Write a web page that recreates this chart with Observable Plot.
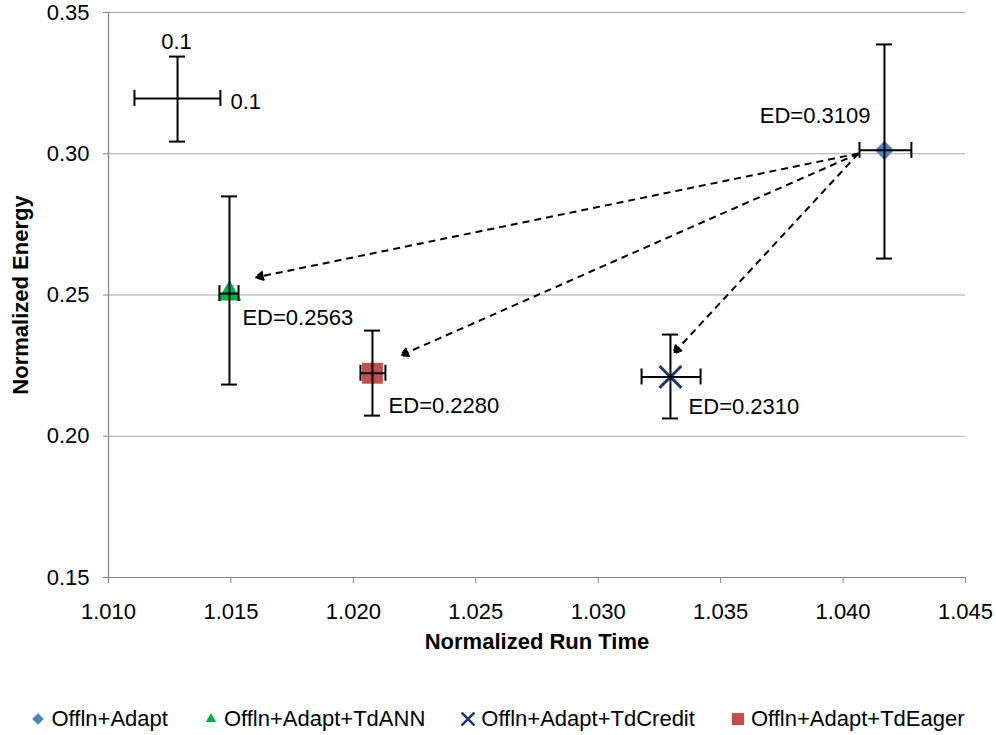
<!DOCTYPE html>
<html><head><meta charset="utf-8">
<script src="https://cdn.jsdelivr.net/npm/d3@7"></script>
<script src="https://cdn.jsdelivr.net/npm/@observablehq/plot@0.6"></script>
<style>
body{margin:0;background:#fff;font-family:"Liberation Sans",Arial,sans-serif;}
#legend{display:flex;justify-content:center;align-items:center;gap:36px;margin-top:17px;height:24px;font-size:22px;color:#000;width:996px;}
.item{display:flex;align-items:center;gap:6px;white-space:nowrap}
.item svg{display:block}
</style></head><body><div id="chart"></div><div id="legend"></div>
<script>
// ---- data ----
const series = ["Offln+Adapt", "Offln+Adapt+TdANN", "Offln+Adapt+TdCredit", "Offln+Adapt+TdEager"];
const symbols = ["diamond2", "triangle", "times", "square"];
const colors = ["#4F81BD", "#00B050", "#1F3864", "#C0504D"];
const markerR = [8.6, 8.8, 10, 11.8];
const runTime = [1.04169, 1.01494, 1.03295, 1.02078];
const energy = [0.3012, 0.2505, 0.2210, 0.2223];
const energyLow = [0.2629, 0.2183, 0.2063, 0.2073];
const energyHigh = [0.3387, 0.2849, 0.2360, 0.2374];
const runTimeLow = [1.04067, 1.01453, 1.03177, 1.02029];
const runTimeHigh = [1.04279, 1.01531, 1.03418, 1.02131];

const edLabels = ["ED=0.3109", "ED=0.2563", "ED=0.2310", "ED=0.2280"];
const edLabelX = [1.04112, 1.01547, 1.03369, 1.02144];
const edLabelY = [0.3135, 0.2417, 0.2105, 0.2109];
const edLabelAnchor = ["end", "start", "start", "start"];

// reference (scale) cross
const refX = [1.01282], refY = [0.3196];
const refXLow = [1.01106], refXHigh = [1.01457];
const refYLow = [0.3043], refYHigh = [0.3344];
const refLabels = ["0.1", "0.1"];
const refLabelX = [1.01278, 1.01498];
const refLabelY = [0.3394, 0.3183];
const refLabelAnchor = ["middle", "start"];

// arrows
const arrowFromX = [1.04063, 1.04063, 1.04063];
const arrowFromY = [0.3001, 0.3001, 0.3001];
const arrowToX = [1.0160, 1.02193, 1.03307];
const arrowToY = [0.2562, 0.2286, 0.2293];

const xTicks = [1.010, 1.015, 1.020, 1.025, 1.030, 1.035, 1.040, 1.045];
const yTicks = [0.15, 0.20, 0.25, 0.30, 0.35];
const gridTicks = [0.20, 0.25, 0.30, 0.35];
const xTitle = "Normalized Run Time";
const yTitle = "Normalized Energy";

// ---- tables ----
const rows = series.map((s, i) => ({
  s, sym: symbols[i], col: colors[i], r: markerR[i],
  x: runTime[i], y: energy[i], ylo: energyLow[i], yhi: energyHigh[i],
  xlo: runTimeLow[i], xhi: runTimeHigh[i]
}));
const refRows = refX.map((x, i) => ({x, y: refY[i], xlo: refXLow[i], xhi: refXHigh[i], ylo: refYLow[i], yhi: refYHigh[i]}));
const bars = rows.concat(refRows);
const edRows = edLabels.map((t, i) => ({t, x: edLabelX[i], y: edLabelY[i], a: edLabelAnchor[i]}));
const refLabelRows = refLabels.map((t, i) => ({t, x: refLabelX[i], y: refLabelY[i], a: refLabelAnchor[i]}));
const arrows = arrowFromX.map((x1, i) => ({x1, y1: arrowFromY[i], x2: arrowToX[i], y2: arrowToY[i]}));
const textRows = edRows.concat(refLabelRows);

const gridColor = "#A6A6A6";
const axisColor = "#868686";
const ebW = 2;

const chart = Plot.plot({
  width: 996, height: 690,
  marginLeft: 108, marginRight: 31, marginTop: 12, marginBottom: 113,
  style: {fontFamily: '"Liberation Sans", Arial, sans-serif', fontSize: "22px", background: "#fff", color: "#000"},
  x: {domain: [1.010, 1.045]},
  y: {domain: [0.15, 0.35]},
  symbol: {domain: series, range: symbols},
  color: {domain: series, range: colors},
  r: {type: "identity"},
  marks: [
    Plot.gridY(gridTicks, {stroke: gridColor, strokeOpacity: 1, strokeWidth: 1.2}),
    Plot.ruleX([1.010], {stroke: axisColor, strokeWidth: 1.2}),
    Plot.ruleY([0.15], {stroke: axisColor, strokeWidth: 1.2}),
    Plot.axisX({ticks: xTicks, tickFormat: d3.format(".3f"), tickSize: 6, tickPadding: 20, stroke: axisColor, label: null, fontSize: 22}),
    Plot.axisY({ticks: yTicks, tickFormat: d3.format(".2f"), tickSize: 5, tickPadding: 14, stroke: axisColor, label: null, fontSize: 22}),
    Plot.text([xTitle], {frameAnchor: "bottom", dy: 71, text: d => d, textAnchor: "middle", fontWeight: "bold", fontSize: 22}),
    Plot.text([yTitle], {frameAnchor: "left", dx: -88, rotate: -90, text: d => d, textAnchor: "middle", fontWeight: "bold", fontSize: 22}),
    // dashed arrows
    Plot.arrow(arrows, {x1: "x1", y1: "y1", x2: "x2", y2: "y2", stroke: "#000", fill: "#000", strokeWidth: 2, strokeDasharray: "7,5", headLength: 7, headAngle: 55, strokeLinecap: "butt"}),
    // markers
    Plot.dot(rows.filter(d => d.sym !== "times"), {x: "x", y: "y", symbol: "s", fill: "s", r: "r", stroke: "none"}),
    Plot.dot(rows.filter(d => d.sym === "times"), {x: "x", y: "y", symbol: "s", stroke: "s", r: "r", strokeWidth: 3}),
    // error bars (vertical)
    Plot.ruleX(bars, {x: "x", y1: "ylo", y2: "yhi", stroke: "#000", strokeWidth: ebW}),
    Plot.ruleY(bars, {y: "ylo", x1: "x", x2: "x", insetLeft: -8, insetRight: -8, stroke: "#000", strokeWidth: ebW}),
    Plot.ruleY(bars, {y: "yhi", x1: "x", x2: "x", insetLeft: -8, insetRight: -8, stroke: "#000", strokeWidth: ebW}),
    // error bars (horizontal)
    Plot.ruleY(bars, {y: "y", x1: "xlo", x2: "xhi", stroke: "#000", strokeWidth: ebW}),
    Plot.ruleX(bars, {x: "xlo", y1: "y", y2: "y", insetTop: -8, insetBottom: -8, stroke: "#000", strokeWidth: ebW}),
    Plot.ruleX(bars, {x: "xhi", y1: "y", y2: "y", insetTop: -8, insetBottom: -8, stroke: "#000", strokeWidth: ebW}),
    // labels
    Plot.text(textRows.filter(d => d.a === "end"), {x: "x", y: "y", text: "t", textAnchor: "end", fontSize: 22}),
    Plot.text(textRows.filter(d => d.a === "start"), {x: "x", y: "y", text: "t", textAnchor: "start", fontSize: 22}),
    Plot.text(textRows.filter(d => d.a === "middle"), {x: "x", y: "y", text: "t", textAnchor: "middle", fontSize: 22})
  ]
});
document.getElementById("chart").appendChild(chart);

// legend
const legend = document.getElementById("legend");
series.forEach((s, i) => {
  const item = document.createElement("div");
  item.className = "item";
  const sz = 14;
  const svg = d3.create("svg").attr("width", sz).attr("height", sz).attr("viewBox", `${-sz/2} ${-sz/2} ${sz} ${sz}`);
  const symMap = {diamond2: d3.symbolDiamond2, triangle: d3.symbolTriangle2, times: d3.symbolTimes, square: d3.symbolSquare};
  const size = {diamond2: 85, triangle: 75, times: 110, square: 150}[symbols[i]];
  const p = svg.append("path").attr("d", d3.symbol(symMap[symbols[i]], size)());
  if (symbols[i] === "times") p.attr("fill", "none").attr("stroke", colors[i]).attr("stroke-width", 2.5);
  else p.attr("fill", colors[i]);
  item.appendChild(svg.node());
  const span = document.createElement("span");
  span.textContent = s;
  item.appendChild(span);
  legend.appendChild(item);
});
</script>
</body></html>
